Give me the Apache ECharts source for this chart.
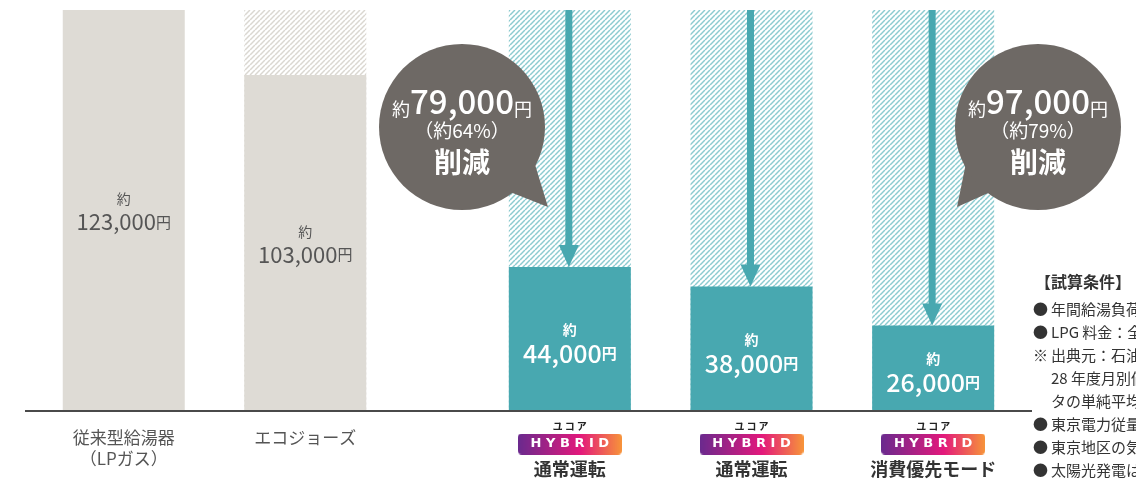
<!DOCTYPE html>
<html><head><meta charset="utf-8">
<script src="https://cdn.jsdelivr.net/npm/echarts@6/dist/echarts.min.js"></script>
<style>html,body{margin:0;padding:0;background:#fff}#c{width:1136px;height:484px}</style>
</head><body><div id="c"></div>
<script>
// ---- data ----
var leftCategories = ['従来型給湯器\n（LPガス）', 'エコジョーズ'];
var leftValues = [123000, 103000];
var rightCategories = ['通常運転', '通常運転', '消費優先モード'];
var rightBrand = 'ユコア';
var rightBadge = 'HYBRID';
var rightValues = [44000, 38000, 26000];
var baseValue = 123000;
var axisMax = 123000;
var bubbleTargets = [0, 2]; // right-group items that get a savings bubble
var notes = ['【試算条件】', '●\u2009年間給湯負荷：一般家庭', '●\u2009LPG 料金：全国平均単価', '※\u2009出典元：石油情報センター', '\u2003\u200928 年度月別価格調査デー', '\u2003\u2009タの単純平均値を使用', '●\u2009東京電力従量電灯B', '●\u2009東京地区の気象データ', '●\u2009太陽光発電は含まず'];

var FONT = '"Noto Sans CJK JP","Noto Sans",sans-serif';
var TEAL = '#48a8b0', GRAY = '#dedbd5', BUBBLE = '#6e6965';

function hatch(color) {
  var s = 5, c = document.createElement('canvas');
  c.width = s; c.height = s;
  var g = c.getContext('2d');
  g.fillStyle = '#fff'; g.fillRect(0, 0, s, s);
  g.strokeStyle = color; g.lineWidth = 1.5;
  [-s, 0, s].forEach(function (k) { g.beginPath(); g.moveTo(k, s); g.lineTo(k + s, 0); g.stroke(); });
  return { image: c, repeat: 'repeat' };
}
function badgeImg() {
  var w = 104, h = 21, c = document.createElement('canvas');
  c.width = w; c.height = h;
  var g = c.getContext('2d');
  var gr = g.createLinearGradient(0, 0, w, 0);
  gr.addColorStop(0, '#6a2a8e'); gr.addColorStop(0.6, '#e3197c'); gr.addColorStop(1, '#f7943a');
  g.fillStyle = gr;
  var r = 4;
  g.beginPath(); g.moveTo(r, 0); g.lineTo(w - r, 0); g.quadraticCurveTo(w, 0, w, r); g.lineTo(w, h - r);
  g.quadraticCurveTo(w, h, w - r, h); g.lineTo(r, h); g.quadraticCurveTo(0, h, 0, h - r); g.lineTo(0, r);
  g.quadraticCurveTo(0, 0, r, 0); g.fill();
  return c;
}
var hatchTeal = hatch('#8ccbd0'), hatchGray = hatch('#dad7d1');
var badge = badgeImg();

function fmt(v) { return v.toLocaleString('en-US'); }

var chart = echarts.init(document.getElementById('c'));
var option = {
  animation: false,
  backgroundColor: '#fff',
  grid: [
    { left: 33, width: 363, top: 10, height: 400 },
    { left: 479, width: 545, top: 10, height: 400 }
  ],
  xAxis: [
    { type: 'category', gridIndex: 0, data: leftCategories, axisLine: { show: false }, axisTick: { show: false },
      axisLabel: { margin: 17, color: '#555', fontFamily: FONT, fontSize: 17, lineHeight: 21 } },
    { type: 'category', gridIndex: 1, data: rightCategories, axisLine: { show: false }, axisTick: { show: false },
      axisLabel: { margin: 9, fontFamily: FONT,
        formatter: function (v) { return '{b|' + rightBrand.split('').join('\u2009') + '}\n{h|' + rightBadge.split('').join(' ') + '}\n{n|' + v + '}'; },
        rich: {
          b: { fontSize: 10, fontWeight: 'bold', color: '#222', lineHeight: 14, fontFamily: FONT },
          h: { width: 104, height: 21, lineHeight: 22, align: 'center', backgroundColor: { image: badge }, color: '#fff', fontWeight: 'bold', fontSize: 13, fontFamily: '"DejaVu Sans",sans-serif' },
          n: { fontSize: 18, fontWeight: 'bold', color: '#333', lineHeight: 28, fontFamily: FONT }
        } } }
  ],
  yAxis: [
    { type: 'value', gridIndex: 0, min: 0, max: axisMax, show: false },
    { type: 'value', gridIndex: 1, min: 0, max: axisMax, show: false }
  ],
  series: [
    { type: 'bar', xAxisIndex: 0, yAxisIndex: 0, barWidth: 122, barGap: '-100%',
      data: leftValues.map(function (v, i) { return i === 0 ? '-' : { value: baseValue, itemStyle: { color: hatchGray } }; }) },
    { type: 'bar', xAxisIndex: 0, yAxisIndex: 0, barWidth: 122, barGap: '-100%', itemStyle: { color: GRAY },
      data: leftValues,
      label: { show: true, position: 'inside', offset: [0, 2], fontFamily: FONT,
        formatter: function (p) { return '{s|約}\n{n|' + fmt(p.value) + '}{y|円}'; },
        rich: { s: { fontSize: 14, color: '#555', lineHeight: 20, fontFamily: FONT },
                n: { fontSize: 22, color: '#555', lineHeight: 26, fontFamily: FONT },
                y: { fontSize: 15, color: '#555', lineHeight: 26, fontFamily: FONT } } } },
    { type: 'bar', xAxisIndex: 1, yAxisIndex: 1, barWidth: 122, barGap: '-100%', itemStyle: { color: hatchTeal },
      data: rightValues.map(function () { return baseValue; }) },
    { type: 'bar', xAxisIndex: 1, yAxisIndex: 1, barWidth: 122, barGap: '-100%', itemStyle: { color: TEAL },
      data: rightValues,
      label: { show: true, position: 'inside', offset: [0, 5], fontFamily: FONT,
        formatter: function (p) { return '{s|約}\n{n|' + fmt(p.value) + '}{y|円}'; },
        rich: { s: { fontSize: 14, color: '#fff', fontWeight: 'bold', lineHeight: 20, fontFamily: FONT },
                n: { fontSize: 25, color: '#fff', fontWeight: 500, lineHeight: 28, fontFamily: FONT },
                y: { fontSize: 15, color: '#fff', fontWeight: 'bold', lineHeight: 28, fontFamily: FONT } } } },
    { type: 'custom', xAxisIndex: 1, yAxisIndex: 1, z: 5,
      data: rightValues.map(function (v, i) { return [i, v, baseValue]; }),
      renderItem: function (params, api) {
        var top = api.coord([api.value(0), api.value(2)]);
        var end = api.coord([api.value(0), api.value(1)]);
        var x = top[0] - 1, hl = 22, hw = 10;
        return { type: 'group', children: [
          { type: 'rect', shape: { x: x - 3.5, y: top[1], width: 7, height: end[1] - hl - top[1] + 1 }, style: { fill: TEAL } },
          { type: 'polygon', shape: { points: [[x - hw, end[1] - hl], [x + hw, end[1] - hl], [x, end[1]]] }, style: { fill: TEAL } }
        ] };
      } }
  ]
};
chart.setOption(option);

// baseline and annotations
var y0 = chart.convertToPixel({ gridIndex: 0 }, [0, 0])[1];
var graphics = [
  { type: 'line', shape: { x1: 25, y1: y0 + 1, x2: 1032, y2: y0 + 1 }, style: { stroke: '#4a4a4a', lineWidth: 2 }, z: 10 }
];
var bubbleSpec = [
  { cx: 462, cy: 127, r: 83, tail: [[533, 158], [505, 190], [548, 207]] },
  { cx: 1038, cy: 127, r: 83, tail: [[967, 158], [995, 190], [957, 207]] }
];
bubbleTargets.forEach(function (idx, k) {
  var b = bubbleSpec[k];
  var saved = baseValue - rightValues[idx];
  var pct = Math.round(saved / baseValue * 100);
  graphics.push({ type: 'polygon', shape: { points: b.tail }, style: { fill: BUBBLE }, z: 20 });
  graphics.push({ type: 'circle', shape: { cx: b.cx, cy: b.cy, r: b.r }, style: { fill: BUBBLE }, z: 20 });
  graphics.push({ type: 'text', x: b.cx, y: b.cy + 5, z: 21, style: {
    text: '{s|約}{n|' + fmt(saved) + '}{s|円}\n{p|（約' + pct + '%）}\n{d|削減}',
    align: 'center', verticalAlign: 'middle', fill: '#fff', fontFamily: FONT,
    rich: {
      s: { fontSize: 18, fill: '#fff', lineHeight: 34, fontFamily: FONT, verticalAlign: 'bottom' },
      n: { fontSize: 33, fill: '#fff', fontWeight: 500, lineHeight: 34, fontFamily: FONT },
      p: { fontSize: 19, fill: '#fff', lineHeight: 26, fontFamily: FONT },
      d: { fontSize: 28, fill: '#fff', fontWeight: 'bold', lineHeight: 36, fontFamily: FONT }
    } } });
});
notes.forEach(function (t, i) {
  graphics.push({ type: 'text', x: i === 0 ? 1035 : 1033, y: i === 0 ? 282 : 286 + i * 23, z: 10, style: {
    text: t, fill: '#333', font: (i === 0 ? 'bold 16px ' : '15px ') + FONT,
    verticalAlign: 'middle' } });
});
chart.setOption({ graphic: graphics });
</script>
</body></html>
